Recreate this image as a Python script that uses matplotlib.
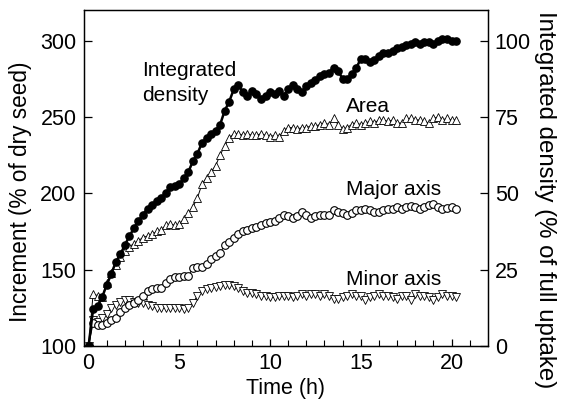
#Librerias
import numpy as np
import matplotlib
matplotlib.use("Agg")
import matplotlib.pyplot as plt

plt.rcParams['font.family'] = ['Liberation Sans', 'DejaVu Sans']

#Tiempo de muestreo (h), cada 15 min
tiempo = np.arange(0, 20.5, 0.25)

#Densidad integrada (% de la captacion total), eje derecho
densidad = [0, 12, 13, 16, 20, 23.5, 27.5, 30,
            33, 36, 38.5, 41, 43, 45, 46, 47.5,
            48.5, 50, 52, 52.5, 53, 55, 57, 60.5,
            63, 66.5, 68, 69.5, 70.5, 72.5, 77, 80,
            84, 85.5, 83, 82, 83.5, 82.5, 81, 82,
            83, 82.5, 83.5, 82, 84, 85.5, 84, 83,
            85, 86, 87, 88.5, 89, 89.5, 91, 90,
            87.5, 87.5, 89, 91, 94, 94, 93, 93.5,
            95, 96, 96, 96.5, 97.5, 98, 98.5, 99,
            99.5, 99, 99.5, 99.5, 99, 100, 100.5, 100.5,
            100, 100]

#Incremento del area (% de semilla seca)
area = [100, 134, 133, 132, 141, 148, 153, 158,
        162, 165, 167, 169, 171, 172, 173, 175,
        176, 179, 180, 179, 180, 183, 187, 191,
        197, 206, 210, 214, 218, 225, 231, 236,
        239, 239, 238, 239, 238, 238, 239, 238,
        237, 238, 237, 241, 243, 243, 242, 243,
        243, 244, 244, 245, 246, 245, 249, 245,
        242, 243, 245, 246, 245, 246, 247, 246,
        248, 248, 247, 248, 246, 246, 249, 249,
        248, 248, 247, 246, 249, 250, 248, 249,
        248, 248]

#Eje mayor
ejeMayor = [100, 115, 114, 114, 115, 117, 118, 122,
            125, 127, 128, 130, 133, 136, 137, 138,
            138, 141, 144, 145, 145, 146, 146, 151,
            152, 152, 154, 157, 159, 161, 166, 168,
            171, 173, 175, 176, 177, 178, 179.5, 180.5,
            181, 182, 183.7, 185.6, 185, 184, 185, 187.6,
            186, 184, 185, 186, 186, 185.6, 189, 188,
            187, 185.6, 187, 189, 189, 190, 189, 188,
            187.6, 189, 189.5, 190, 191, 190, 191, 191.5,
            191, 190, 191, 192, 193, 191, 190, 190.5,
            191, 190]

#Eje menor
ejeMenor = [100, 117, 116, 118, 121, 125, 127, 129,
            130, 130, 129, 128, 128, 127, 126, 125,
            125, 125, 125, 125, 125, 124.5, 124.8, 128,
            133, 136, 137, 138, 138.5, 139, 140, 140,
            139, 138, 136, 135, 134.6, 134, 133, 132.5,
            132, 132, 133, 133, 133, 132, 133, 134,
            133, 134, 134, 133, 134, 133, 131, 131,
            132, 133, 134, 133, 133, 130, 132, 133,
            134, 133, 133, 132, 131, 133, 133, 130,
            134, 133, 133, 132, 130, 132, 134, 133,
            133, 132]

fig = plt.figure(figsize=(5.62, 4.04), dpi=100)
ax = fig.add_axes([0.1495, 0.1436, 0.7185, 0.8317])
ax2 = ax.twinx()

#Series del eje izquierdo
ax.plot(tiempo, ejeMenor, color='k', lw=0.7, marker='v', ms=5.5, mfc='white', mec='k', mew=0.6)
ax.plot(tiempo, ejeMayor, color='k', lw=0.7, marker='o', ms=5.5, mfc='white', mec='k', mew=0.8)
ax.plot(tiempo, area, color='k', lw=0.7, marker='^', ms=5.5, mfc='white', mec='k', mew=0.6)

#Serie del eje derecho
ax2.plot(tiempo, densidad, color='k', lw=1.8, marker='o', ms=5.2, mfc='k', mec='k')

ax.set_xlim(-0.25, 22)
ax.set_ylim(100, 320)
ax2.set_ylim(0, 110)

ax.set_xticks([0, 5, 10, 15, 20])
ax.set_xticks(np.arange(0, 22, 1), minor=True)
ax.set_yticks([100, 150, 200, 250, 300])
ax2.set_yticks([0, 25, 50, 75, 100])

ax.tick_params(axis='x', which='major', direction='in', length=5, width=0.9, labelsize=15.5, pad=5)
ax.tick_params(axis='x', which='minor', direction='in', length=4, width=0.8)
ax.tick_params(axis='y', direction='in', length=6, width=0.9, labelsize=15.5, pad=5.5)
ax2.tick_params(axis='y', direction='in', length=6, width=0.9, labelsize=15.5, pad=5)

for eje in [ax, ax2]:
    for lado in eje.spines.values():
        lado.set_linewidth(0.9)

ax.set_xlabel("Time (h)", fontsize=15.5, labelpad=3)
ax.set_ylabel("Increment (% of dry seed)", fontsize=16.3)
ax2.set_ylabel("Integrated density (% of full uptake)", fontsize=17.3, rotation=270)
#Posicion de los titulos de los ejes verticales
ax.yaxis.set_label_coords(-0.13, 0.46)
ax2.yaxis.set_label_coords(1.17, 0.435)

#Etiquetas de las curvas
ax.text(2.95, 277, "Integrated", fontsize=15, ha='left', va='baseline')
ax.text(2.95, 260.5, "density", fontsize=15, ha='left', va='baseline')
ax.text(14.2, 253, "Area", fontsize=15, ha='left', va='baseline')
ax.text(14.2, 199, "Major axis", fontsize=15, ha='left', va='baseline')
ax.text(14.2, 140, "Minor axis", fontsize=15, ha='left', va='baseline')

fig.savefig("out.png", dpi=100)
